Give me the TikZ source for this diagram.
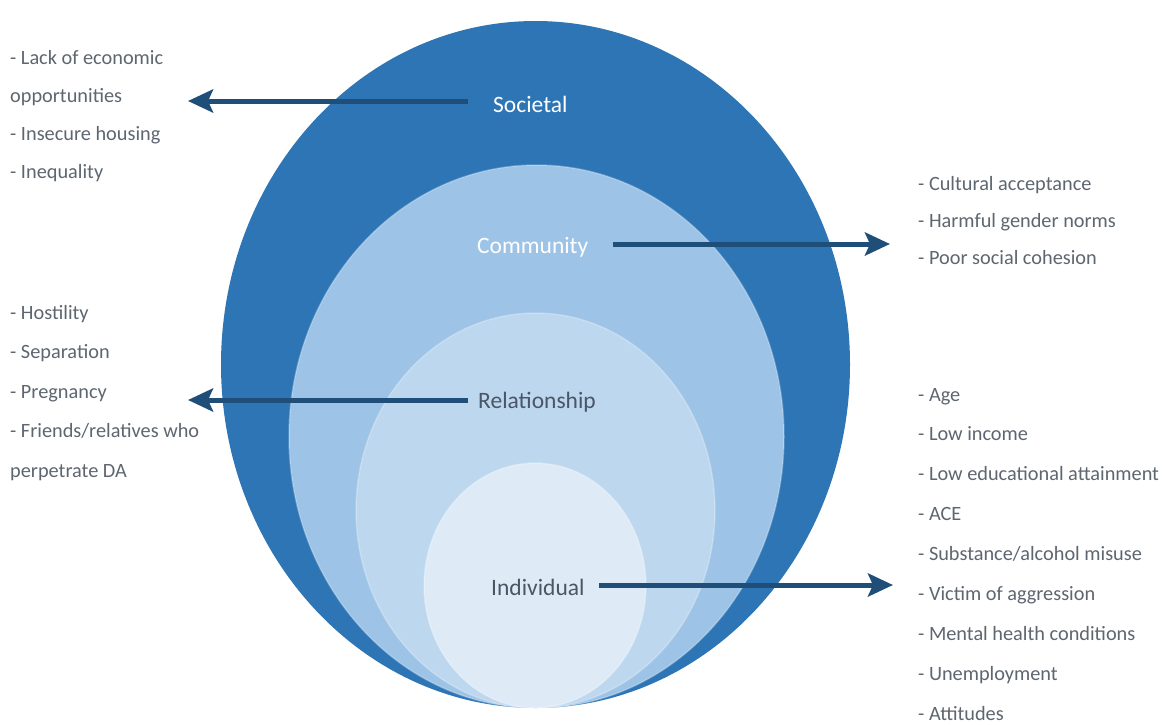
\documentclass[tikz,border=0pt]{standalone}
\usepackage{fontspec}
\setmainfont{Carlito}
\usetikzlibrary{arrows.meta}
\definecolor{cSoc}{HTML}{2E75B6}
\definecolor{cCom}{HTML}{9DC3E6}
\definecolor{cRel}{HTML}{BDD7EE}
\definecolor{cInd}{HTML}{DEEBF7}
\definecolor{cArr}{HTML}{1F4E79}
\definecolor{cList}{HTML}{5E6670}
\definecolor{cLab}{HTML}{4A5666}
\tikzset{
  ring/.style={draw=white, draw opacity=0.25, line width=1.5pt},
  lab/.style={font=\fontsize{23.5}{26}\selectfont, inner sep=0pt, anchor=west},
  item/.style={font=\fontsize{20.3}{24}\selectfont, text=cList, inner sep=0pt, anchor=base west},
  arr/.style={draw=cArr, line width=5pt, -{Stealth[length=25pt, width=23pt, inset=5pt]}}
}
\begin{document}
\begin{tikzpicture}[x=1pt, y=-1pt]
\useasboundingbox (0,0) rectangle (1165,724);
\fill[white] (0,0) rectangle (1165,724);
% nested ellipses
\path[fill=cSoc] (535.5,364.5) ellipse [x radius=314.5pt, y radius=343.5pt];
\path[fill=cCom, ring] (536.5,436.5) ellipse [x radius=247.5pt, y radius=271.5pt];
\path[fill=cRel, ring] (535.5,510.5) ellipse [x radius=179.5pt, y radius=197.5pt];
\path[fill=cInd, ring] (535,585.5) ellipse [x radius=111pt, y radius=122.5pt];
% level labels
\node[lab, text=white] (soc) at (493,104) {Societal};
\node[lab, text=white] (com) at (477,247) {Community};
\node[lab, text=cLab] (rel) at (478,402) {Relationship};
\node[lab, text=cLab] (ind) at (491,587) {Individual};
% lists
\foreach \t [count=\i] in {- Lack of economic, opportunities, - Insecure housing, - Inequality}
  \node[item] (ls\i) at (10,{64+38.2*(\i-1)}) {\t};
\foreach \t [count=\i] in {- Cultural acceptance, - Harmful gender norms, - Poor social cohesion}
  \node[item] (lc\i) at (918,{190+37*(\i-1)}) {\t};
\foreach \t [count=\i] in {- Hostility, - Separation, - Pregnancy, - Friends/relatives who, perpetrate DA}
  \node[item] (lr\i) at (10,{319+39.5*(\i-1)}) {\t};
\foreach \t [count=\i] in {- Age, - Low income, - Low educational attainment, - ACE, - Substance/alcohol misuse, - Victim of aggression, - Mental health conditions, - Unemployment, - Attitudes}
  \node[item] (li\i) at (918,{401+39.9*(\i-1)}) {\t};
% arrow end points
\coordinate (socT) at (188,101);
\coordinate (comT) at (890,244);
\coordinate (relT) at (188,400);
\coordinate (indT) at (893,585);
\draw[arr] ([xshift=-25pt]soc.west |- socT) -- (socT);
\draw[arr] ([xshift=25pt]com.east |- comT) -- (comT);
\draw[arr] ([xshift=-10pt]rel.west |- relT) -- (relT);
\draw[arr] ([xshift=14pt]ind.east |- indT) -- (indT);
\end{tikzpicture}
\end{document}
